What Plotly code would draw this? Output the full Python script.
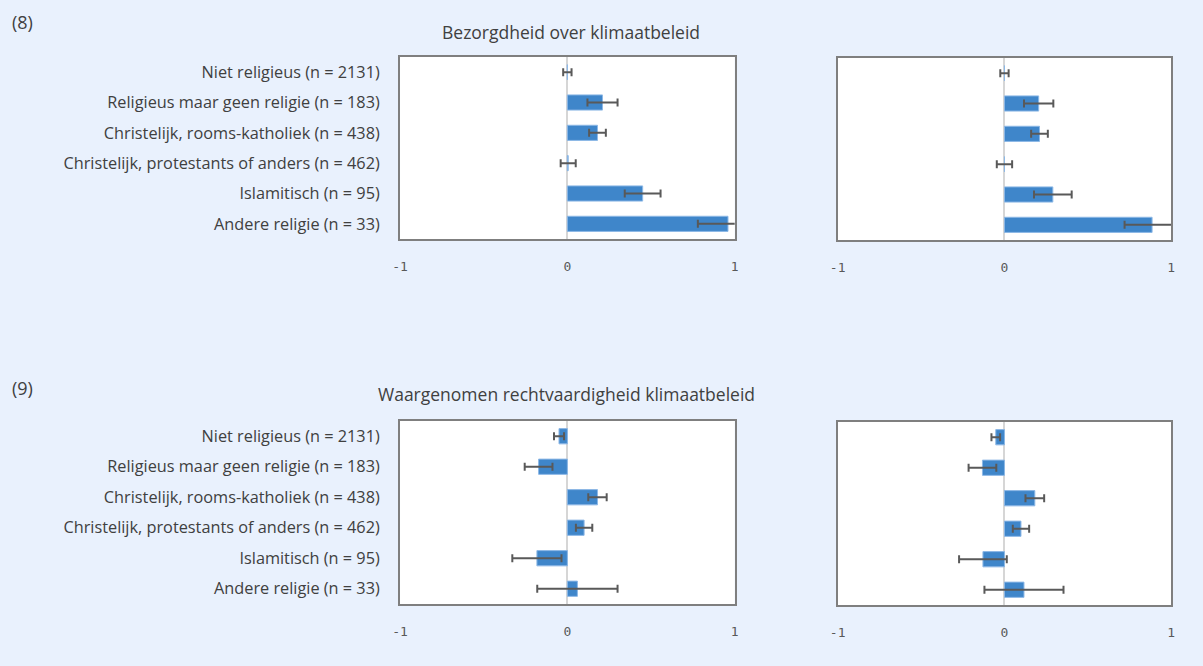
import plotly.graph_objects as go

categories = [
    "Niet religieus (n = 2131)",
    "Religieus maar geen religie (n = 183)",
    "Christelijk, rooms-katholiek (n = 438)",
    "Christelijk, protestants of anders (n = 462)",
    "Islamitisch (n = 95)",
    "Andere religie (n = 33)",
]

# Panel (8): Bezorgdheid over klimaatbeleid
p8_left_values = [0.00, 0.21, 0.18, 0.005, 0.45, 0.96]
p8_left_errors = [0.025, 0.09, 0.05, 0.045, 0.107, 0.18]
p8_right_values = [0.00, 0.205, 0.21, 0.00, 0.29, 0.885]
p8_right_errors = [0.025, 0.088, 0.05, 0.046, 0.113, 0.165]

# Panel (9): Waargenomen rechtvaardigheid klimaatbeleid
p9_left_values = [-0.05, -0.172, 0.18, 0.10, -0.182, 0.06]
p9_left_errors = [0.03, 0.083, 0.055, 0.049, 0.147, 0.24]
p9_right_values = [-0.052, -0.132, 0.182, 0.099, -0.129, 0.117]
p9_right_errors = [0.026, 0.083, 0.056, 0.049, 0.143, 0.237]

x_ticks = [-1, 0, 1]
x_tick_labels = ["-1", "0", "1"]

title8 = "Bezorgdheid over klimaatbeleid"
title9 = "Waargenomen rechtvaardigheid klimaatbeleid"

W, H = 1203, 666
BAR = "#3f86ca"
ERR = "#595959"
TXT = "#404040"
BG = "#e9f1fd"
FONT = "Open Sans"

def px_x(a, b):
    return [a / W, b / W]

def px_y(top, bottom):
    return [1 - bottom / H, 1 - top / H]

panels = [
    (p8_left_values, p8_left_errors, px_x(396, 734), px_y(57, 239), True),
    (p8_right_values, p8_right_errors, px_x(838, 1175), px_y(58, 240), False),
    (p9_left_values, p9_left_errors, px_x(396, 734), px_y(421, 604), True),
    (p9_right_values, p9_right_errors, px_x(838, 1175), px_y(422, 605), False),
]

fig = go.Figure()
layout = {}
for i, (vals, errs, xd, yd, labels) in enumerate(panels, start=1):
    xa = "x" if i == 1 else f"x{i}"
    ya = "y" if i == 1 else f"y{i}"
    fig.add_trace(go.Bar(
        x=vals, y=categories, orientation="h",
        marker=dict(color=BAR, line=dict(color="#8db8e6", width=1)),
        width=0.5,
        error_x=dict(type="data", array=errs, visible=True, color=ERR,
                     thickness=2, width=4),
        xaxis=xa, yaxis=ya, showlegend=False, hoverinfo="skip",
    ))
    layout["xaxis" if i == 1 else f"xaxis{i}"] = dict(
        domain=xd, anchor=ya, range=[-1, 1],
        tickvals=x_ticks, ticktext=x_tick_labels,
        showgrid=False, zeroline=True, zerolinecolor="#d6d6d6", zerolinewidth=2,
        showline=True, mirror=True, linecolor="#7f7f7f", linewidth=2,
        ticks="", ticklabelstandoff=14,
        tickfont=dict(family="DejaVu Sans Mono", size=13, color="#595959"),
        fixedrange=True,
    )
    layout["yaxis" if i == 1 else f"yaxis{i}"] = dict(
        domain=yd, anchor=xa, autorange="reversed",
        categoryorder="array", categoryarray=categories,
        showgrid=False, zeroline=False,
        showline=True, mirror=True, linecolor="#7f7f7f", linewidth=2,
        showticklabels=labels, ticks="", ticklabelstandoff=15,
        tickfont=dict(family=FONT, size=16.3, color=TXT),
        fixedrange=True,
    )

fig.update_layout(
    width=W, height=H,
    margin=dict(l=0, r=0, t=0, b=0),
    paper_bgcolor=BG, plot_bgcolor="white",
    bargap=0.5,
    annotations=[
        dict(text="(8)", x=2 / W, y=1 - 22 / H, xref="paper", yref="paper",
             xanchor="left", yanchor="middle", showarrow=False,
             font=dict(family=FONT, size=18, color=TXT)),
        dict(text="(9)", x=2 / W, y=1 - 388 / H, xref="paper", yref="paper",
             xanchor="left", yanchor="middle", showarrow=False,
             font=dict(family=FONT, size=18, color=TXT)),
        dict(text=title8, x=569 / W, y=1 - 32 / H, xref="paper", yref="paper",
             xanchor="center", yanchor="middle", showarrow=False,
             font=dict(family=FONT, size=17.5, color=TXT)),
        dict(text=title9, x=564 / W, y=1 - 394 / H, xref="paper", yref="paper",
             xanchor="center", yanchor="middle", showarrow=False,
             font=dict(family=FONT, size=17.5, color=TXT)),
    ],
    **layout,
)

fig.write_html(
    "out.html",
    config={"displayModeBar": False},
    post_script="document.body.style.margin='0';document.body.style.background='" + BG + "';",
)
